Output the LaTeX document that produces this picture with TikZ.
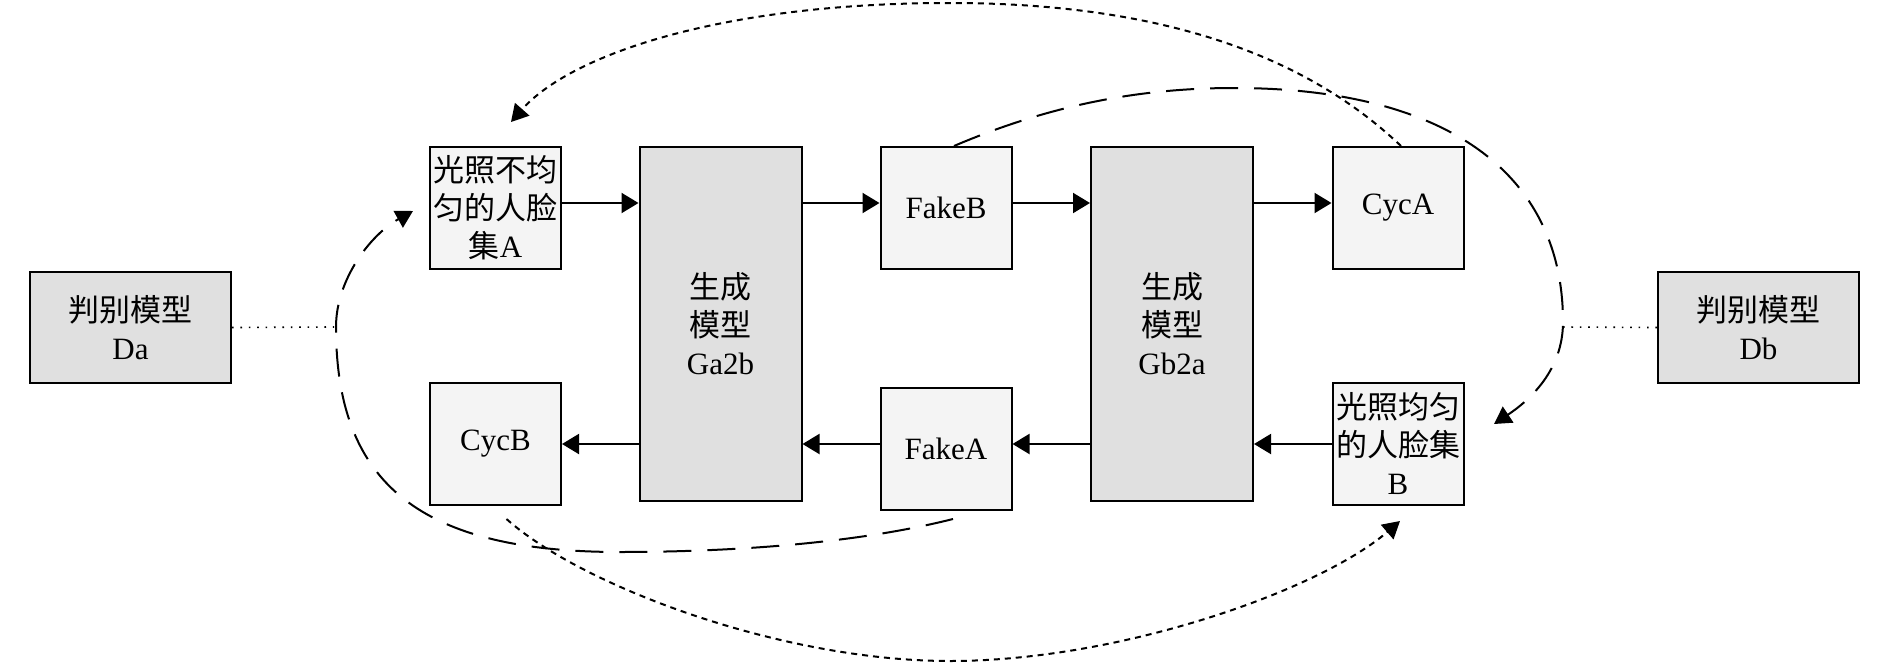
\documentclass[tikz,border=0pt]{standalone}
\usepackage{fontspec}
\setmainfont{Liberation Serif}
\newfontfamily\cjk{Noto Sans CJK SC}
\usetikzlibrary{arrows.meta}
\begin{document}
\begin{tikzpicture}[x=0.5pt,y=-0.5pt,
  box/.style={draw,line width=1pt,fill=gray!9,inner sep=1pt,align=center,
    font=\fontsize{15.5}{19}\selectfont},
  bigbox/.style={box,fill=gray!24},
  smallbox/.style={box,minimum width=65.5pt,minimum height=61pt},
  genbox/.style={bigbox,minimum width=81pt,minimum height=177pt},
  discbox/.style={bigbox,minimum width=100.5pt,minimum height=55.5pt},
  arr/.style={line width=1pt,-{Triangle[length=8.5pt,width=10pt]}},
  curvetip/.style={-{Triangle[length=8.5pt,width=9.5pt]}},
  dsh/.style={line width=1pt,dash pattern=on 14pt off 8pt,curvetip},
  dotl/.style={line width=1pt,dash pattern=on 3pt off 2.5pt,curvetip},
  fine/.style={line width=0.8pt,dash pattern=on 0.8pt off 3.4pt}
]
\useasboundingbox (0,0) rectangle (1890,664);

% nodes
\node[discbox] (Da) at (130.5,327.5) {{\cjk 判别模型}\\Da};
\node[smallbox] (A) at (495.5,208) {{\cjk 光照不均}\\{\cjk 匀的人脸}\\{\cjk 集}A};
\node[smallbox] (CycB) at (495.5,444) {CycB};
\node[genbox] (Ga2b) at (720.5,324) {{\cjk 生成}\\{\cjk 模型}\\Ga2b};
\node[smallbox] (FakeB) at (946,208) {FakeB};
\node[smallbox] (FakeA) at (946,449) {FakeA};
\node[genbox] (Gb2a) at (1172,324) {{\cjk 生成}\\{\cjk 模型}\\Gb2a};
\node[smallbox] (CycA) at (1398,208) {CycA};
\node[smallbox] (B) at (1398,444) {{\cjk 光照均匀}\\{\cjk 的人脸集}\\B};
\node[discbox] (Db) at (1758.5,327.5) {{\cjk 判别模型}\\Db};

% helper coordinates
\coordinate (r1) at (0,203);
\coordinate (r2) at (0,444);
\coordinate (daEnd) at (334,327);
\coordinate (dbEnd) at (1563,327);
\coordinate (tipB) at (1494,424);
\coordinate (tipA) at (413,211);
\coordinate (tipAtop) at (511,122);
\coordinate (tipBbot) at (1400,521);

% solid arrows, top row
\draw[arr] (A.east |- r1) -- (Ga2b.west |- r1);
\draw[arr] (Ga2b.east |- r1) -- (FakeB.west |- r1);
\draw[arr] (FakeB.east |- r1) -- (Gb2a.west |- r1);
\draw[arr] (Gb2a.east |- r1) -- (CycA.west |- r1);
% solid arrows, bottom row
\draw[arr] (B.west |- r2) -- (Gb2a.east |- r2);
\draw[arr] (Gb2a.west |- r2) -- (FakeA.east |- r2);
\draw[arr] (FakeA.west |- r2) -- (Ga2b.east |- r2);
\draw[arr] (Ga2b.west |- r2) -- (CycB.east |- r2);

% fine dotted links to discriminators
\draw[fine] (Da.east) -- (daEnd);
\draw[fine] (Db.west) -- (dbEnd);

% dashed loops
\draw[dsh] ([xshift=4pt]FakeB.north) .. controls (1050,105) and (1140,88) .. (1234,88)
  .. controls (1444.6,88) and (1563,172.2) .. (1563,322)
  .. controls (1563,370) and (1530,400) .. (tipB);
\draw[dsh] ([xshift=3.5pt,yshift=-4pt]FakeA.south) .. controls (850,545) and (720,552) .. (620,552)
  .. controls (421,552) and (336,484.5) .. (336,327)
  .. controls (336,280) and (370,235) .. (tipA);

% dotted loops
\draw[dotl] ([xshift=1.5pt]CycA.north) .. controls (1300,50) and (1150,3) .. (950,3)
  .. controls (720,3) and (570,55) .. (tipAtop);
\draw[dotl] ([xshift=5.5pt,yshift=-6.5pt]CycB.south) .. controls (580,585) and (780,661) .. (950,661)
  .. controls (1120,661) and (1320,590) .. (tipBbot);
\end{tikzpicture}
\end{document}
